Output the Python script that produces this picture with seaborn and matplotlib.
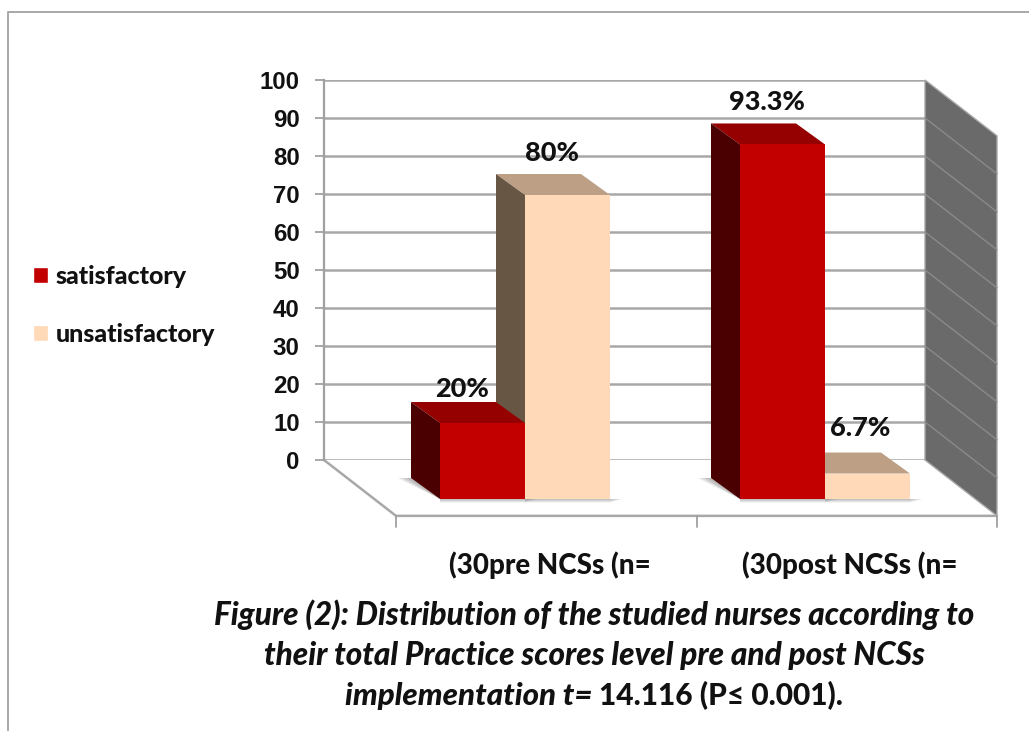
# -*- coding: utf-8 -*-
import pandas as pd
import seaborn as sns
import matplotlib.pyplot as plt
from matplotlib.patches import Polygon
from matplotlib.transforms import ScaledTranslation

# Data
groups = ['(30pre NCSs (n=', '(30post NCSs (n=']
satisfactory = [20, 93.3]
unsatisfactory = [80, 6.7]
value_labels = ['20%', '93.3%', '80%', '6.7%']
y_ticks = list(range(0, 101, 10))

W, H = 1029, 731
RED = ['#C20000', '#950000', '#4A0000']       # front, top, side
PEACH = ['#FFD9B8', '#BD9F86', '#685645']
HEAVY = 900


def box(left, top, right, bottom):
    # pixel box (from the top left of the image) to figure fractions
    return [left / W, 1 - bottom / H, (right - left) / W, (bottom - top) / H]


sns.set_theme(style='white')
plt.rcParams['font.family'] = ['Lato', 'DejaVu Sans']

df = pd.DataFrame({
    'group': groups * 2,
    'level': ['satisfactory'] * 2 + ['unsatisfactory'] * 2,
    'value': satisfactory + unsatisfactory,
})

fig = plt.figure(figsize=(W / 100, H / 100), dpi=100, facecolor='white')

# Frame of the pasted picture
fig.add_artist(plt.Line2D([8 / W, 8 / W, 1], [0, 1 - 12 / H, 1 - 12 / H], color='#a8a8a8', lw=1.4))

# Back wall with the value axis
wall = fig.add_axes(box(324, 80, 925, 460))
wall.set_xlim(0, 1)
wall.set_ylim(0, 100)
wall.set_facecolor('white')
wall.set_xticks([])
wall.set_yticks(y_ticks)
wall.set_yticklabels([str(t) for t in y_ticks], family='Liberation Sans', weight='bold', fontsize=17.3, color='#111111')
wall.tick_params(axis='y', left=True, length=6.5, width=1.3, color='#a0a0a0', pad=11)
wall.grid(axis='y', color='#a8a8a8', lw=1.8)
for side in ['top', 'right', 'bottom']:
    wall.spines[side].set_visible(False)
wall.spines['left'].set_color('#a0a0a0')
wall.spines['left'].set_linewidth(1.6)

# Side wall and floor, from the depth of the chart box
DX = 72 / 601
DY = 14.7
wall.add_patch(Polygon([(1, 0), (1, 100), (1 + DX, 100 - DY), (1 + DX, -DY)], closed=True,
                       facecolor='#6A6A6A', edgecolor='#a8a8a8', lw=1, clip_on=False))
for t in y_ticks[1:-1]:
    wall.plot([1, 1 + DX], [t, t - DY], color='#8a8a8a', lw=1, clip_on=False)
wall.plot([0, DX, 1 + DX], [0, -DY, -DY], color='#a8a8a8', lw=1.8, clip_on=False)
for x in [DX, DX + 0.5, DX + 1]:
    wall.plot([x, x], [-DY, -DY - 2.8], color='#a0a0a0', lw=1.3, clip_on=False)

# Bars, on a transparent axes set in the front plane of the bars
ax = fig.add_axes(box(375, 119, 975, 499))
ax.patch.set_alpha(0)
sns.barplot(data=df, x='group', y='value', hue='level', hue_order=['satisfactory', 'unsatisfactory'],
            palette=[RED[0], PEACH[0]], width=170 / 300, gap=0, saturation=1, errorbar=None, ax=ax)
ax.set_xlim(-0.5, 1.5)
ax.set_ylim(0, 100)
ax.set_yticks([])
ax.set_xlabel('')
ax.set_ylabel('')
sns.despine(ax=ax, left=True, bottom=True)
ax.tick_params(axis='x', length=0, pad=38)
ax.set_xticks([0, 1])
ax.set_xticklabels(groups, weight=HEAVY, fontsize=20, color='#111111')
for lab in ax.get_xticklabels():
    lab.set_transform(lab.get_transform() + ScaledTranslation(25 / 100, 0, fig.dpi_scale_trans))

# 3D faces worked out from the bars seaborn has drawn
bar_dx = 29 / 300
bar_dy = 21 / 3.8
shadow_dx = 13 / 300
label_dx = [-20, -16, -16, -7]
label_dy = [34, 42, 42, 46]
n = 0
for c, (container, colors) in enumerate(zip(ax.containers, [RED, PEACH])):
    z = 2 if c == 0 else 1
    for bar in container:
        x0, x1, h = bar.get_x(), bar.get_x() + bar.get_width(), bar.get_height()
        bar.set_zorder(3)
        bar.set_edgecolor('none')
        ax.add_patch(Polygon([(x0, h), (x0 - bar_dx, h + bar_dy), (x1 - bar_dx, h + bar_dy), (x1, h)],
                             closed=True, facecolor=colors[1], edgecolor='none', zorder=z))
        ax.add_patch(Polygon([(x0, 0), (x0, h), (x0 - bar_dx, h + bar_dy), (x0 - bar_dx, bar_dy)],
                             closed=True, facecolor=colors[2], edgecolor='none', zorder=z))
        # soft shadow on the floor, a few thin layers
        for k in [1.0, 0.75, 0.5, 0.25]:
            ax.add_patch(Polygon([(x0, 0), (x0 - bar_dx, bar_dy), (x0 - bar_dx - shadow_dx * k, bar_dy)],
                                 closed=True, facecolor='#808080', alpha=0.18, edgecolor='none', zorder=0.5))
            ax.add_patch(Polygon([(x0, 0), (x1 + shadow_dx * k, 0), (x1, -0.9 * k), (x0, -0.9 * k)],
                                 closed=True, facecolor='#808080', alpha=0.15, edgecolor='none', zorder=0.5,
                                 clip_on=False))
        ax.annotate(value_labels[n], ((x0 + x1) / 2, h), xytext=(label_dx[n] * 0.72, label_dy[n] * 0.72),
                    textcoords='offset points', ha='center', va='center', weight=HEAVY,
                    fontsize=19.5, color='#111111', zorder=6)
        n += 1

sns.move_legend(ax, 'center left', bbox_to_anchor=(33 / W, 1 - 305.5 / H), bbox_transform=fig.transFigure,
                title=None, frameon=False, handlelength=0.6, handleheight=0.6, handletextpad=0.3,
                labelspacing=1.38, borderpad=0, borderaxespad=0, prop={'weight': HEAVY, 'size': 18})
for t in ax.get_legend().get_texts():
    t.set_color('#111111')

# Caption
cap = dict(va='center', weight=HEAVY, color='#111111')
fig.text(594 / W, 1 - 615 / H, 'Figure (2): Distribution of the studied nurses according to',
         ha='center', style='italic', fontsize=22.7, **cap)
fig.text(594 / W, 1 - 656 / H, 'their total Practice scores level pre and post NCSs',
         ha='center', style='italic', fontsize=22.7, **cap)
fig.text(599 / W, 1 - 696 / H, 'implementation t= ', ha='right', style='italic', fontsize=22.5, **cap)
fig.text(599 / W, 1 - 696 / H, '14.116 (P≤ 0.001).', ha='left', fontsize=21.5, **cap)

plt.savefig('out.png', dpi=100)
